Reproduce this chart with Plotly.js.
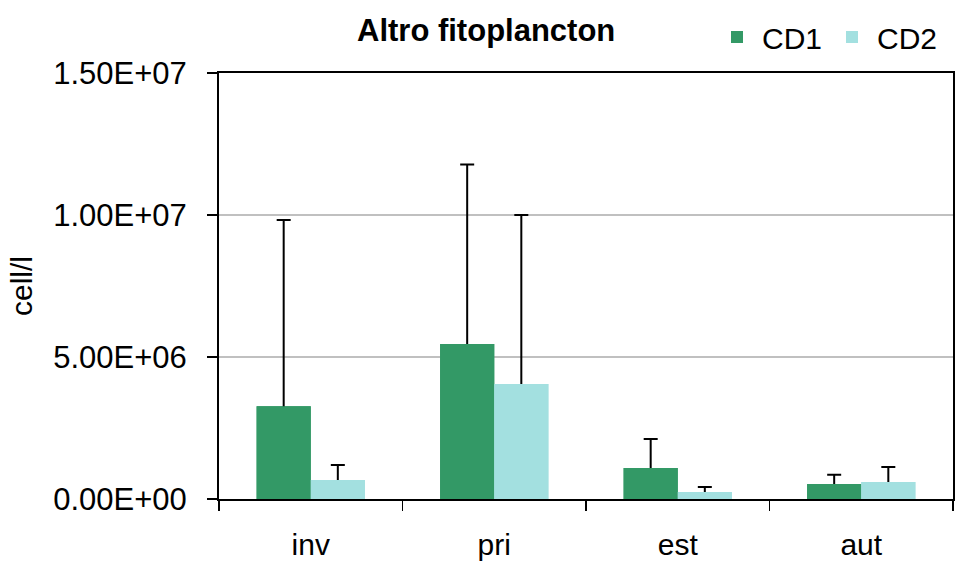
<!DOCTYPE html>
<html>
<head>
<meta charset="utf-8">
<script src="https://cdn.plot.ly/plotly-3.0.1.min.js"></script>
<style>html,body{margin:0;padding:0;background:#fff;}#chart{width:957px;height:561px;}</style>
</head>
<body>
<div id="chart"></div>
<script>
// Data
var categories = ["inv", "pri", "est", "aut"];
var cd1Values = [3.27e6, 5.46e6, 1.09e6, 0.53e6];
var cd1ErrPlus = [6.55e6, 6.32e6, 1.02e6, 0.32e6];
var cd2Values = [0.67e6, 4.05e6, 0.25e6, 0.60e6];
var cd2ErrPlus = [0.53e6, 5.95e6, 0.17e6, 0.53e6];
var yTickVals = [0, 5e6, 1e7, 1.5e7];
var yTickText = ["0.00E+00", "5.00E+06", "1.00E+07", "1.50E+07"];
var seriesNames = ["CD1", "CD2"];
var seriesColors = ["#339966", "#a3e0e0"];

var FONT = "Liberation Sans, Arial, sans-serif";
// lower end of the (one-sided) error bar is tucked inside the bar and hidden by a cover bar
var HIDE = 1e5;
function fill(n, v){ var a=[]; for (var i=0;i<n;i++) a.push(v); return a; }

function errBar(plus){
  return {type: "data", symmetric: false, array: plus, arrayminus: fill(plus.length, HIDE),
          color: "#000", thickness: 2, width: 7};
}

var traces = [
  {type: "bar", name: seriesNames[0], x: categories, y: cd1Values, offsetgroup: "a",
   marker: {color: seriesColors[0]}, error_y: errBar(cd1ErrPlus)},
  {type: "bar", name: seriesNames[1], x: categories, y: cd2Values, offsetgroup: "b",
   marker: {color: seriesColors[1]}, error_y: errBar(cd2ErrPlus)},
  // cover bars (same data) hide the lower cap of each error bar
  {type: "bar", name: seriesNames[0], x: categories, y: cd1Values, offsetgroup: "a",
   marker: {color: seriesColors[0]}, showlegend: false, hoverinfo: "skip"},
  {type: "bar", name: seriesNames[1], x: categories, y: cd2Values, offsetgroup: "b",
   marker: {color: seriesColors[1]}, showlegend: false, hoverinfo: "skip"}
];

var layout = {
  width: 957, height: 561,
  paper_bgcolor: "#fff", plot_bgcolor: "#fff",
  margin: {l: 219, r: 4, t: 73, b: 62, pad: 0},
  barmode: "group", bargap: 0.41, bargroupgap: 0,
  font: {family: FONT, size: 30, color: "#000"},
  title: {text: "<b>Altro fitoplancton</b>", font: {family: FONT, size: 31, color: "#000"},
          xref: "container", yref: "container", x: 0.508, xanchor: "center", y: 1 - 30/561, yanchor: "middle"},
  showlegend: true,
  legend: {orientation: "h", xref: "container", yref: "container", x: 712/957, xanchor: "left",
           y: 1 - 37/561, yanchor: "middle", font: {family: FONT, size: 30, color: "#000"},
           bgcolor: "rgba(0,0,0,0)", borderwidth: 0, itemwidth: 40, traceorder: "normal"},
  xaxis: {
    type: "category", tickson: "boundaries", ticks: "outside", ticklen: 10, tickwidth: 1.5, tickcolor: "#000",
    showline: true, linecolor: "#000", linewidth: 2, mirror: true, showgrid: false, zeroline: false,
    tickfont: {family: FONT, size: 30, color: "#000"}, ticklabelstandoff: 18, fixedrange: true
  },
  yaxis: {
    range: [0, 1.5e7], tickmode: "array", tickvals: yTickVals, ticktext: yTickText,
    ticks: "outside", ticklen: 10, tickwidth: 1.5, tickcolor: "#000",
    showline: true, linecolor: "#000", linewidth: 2, mirror: true,
    showgrid: true, gridcolor: "#c0c0c0", gridwidth: 1.5, zeroline: false,
    tickfont: {family: FONT, size: 31, color: "#000"}, ticklabelstandoff: 14,
    title: {text: "cell/l", font: {family: FONT, size: 30, color: "#000"}, standoff: 12},
    automargin: false, fixedrange: true
  }
};

Plotly.newPlot("chart", traces, layout, {displayModeBar: false, staticPlot: true});
</script>
</body>
</html>
